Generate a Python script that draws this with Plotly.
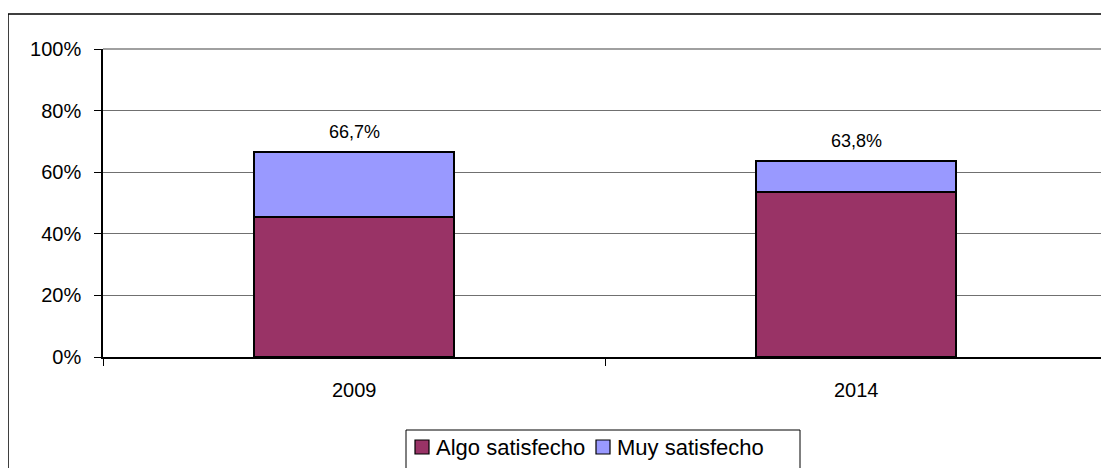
import plotly.graph_objects as go

years = ["2009", "2014"]
algo = [45.5, 53.7]
muy = [21.2, 10.1]
totals = [66.7, 63.8]
y_ticks = [0, 20, 40, 60, 80, 100]
series_names = ["Algo satisfecho", "Muy satisfecho"]
colors = ["#993366", "#9999FF"]

W, H = 1109, 468
OFF = 8  # page body margin
# plot area in page pixels: x 103..1107, y 49..357
PL, PR, PT, PB = 103, 1107, 49, 357
L = PL - OFF
T = PT - OFF
R = W - (PR - OFF)
B = H - (PB - OFF)
pw, ph = PR - PL, PB - PT

def px_x(x):
    return (x - PL) / pw

def px_y(y):
    return (PB - y) / ph

xpos = list(range(len(years)))
FONT = "Liberation Sans, Arial"

fig = go.Figure()
for name, vals, col in zip(series_names, [algo, muy], colors):
    fig.add_trace(go.Bar(
        x=xpos, y=vals, name=name, width=0.4, showlegend=False,
        marker=dict(color=col, line=dict(color="#000000", width=2)),
    ))

for xp, t in zip(xpos, totals):
    fig.add_annotation(
        x=xp, y=t, xref="x", yref="y", text=f"{t:.1f}".replace(".", ",") + "%",
        showarrow=False, yanchor="bottom", yshift=8,
        font=dict(family=FONT, size=18, color="#000000"),
    )

for xp, yr in zip(xpos, years):
    fig.add_annotation(
        x=xp, y=px_y(390), xref="x", yref="paper", text=yr,
        showarrow=False, yanchor="middle",
        font=dict(family=FONT, size=20, color="#000000"),
    )

# outer chart border
fig.add_shape(type="rect", xref="paper", yref="paper",
              x0=px_x(8), x1=px_x(1125), y0=px_y(14), y1=px_y(490),
              line=dict(color="#000000", width=1.5), fillcolor="rgba(0,0,0,0)", layer="below")
# legend border
fig.add_shape(type="rect", xref="paper", yref="paper",
              x0=px_x(406), x1=px_x(800), y0=px_y(430), y1=px_y(490),
              line=dict(color="#000000", width=1), fillcolor="rgba(0,0,0,0)")
# legend entries (drawn manually to match spacing)
legend_marker_x = [415, 596]
for name, col, mx in zip(series_names, colors, legend_marker_x):
    fig.add_shape(type="rect", xref="paper", yref="paper",
                  x0=px_x(mx), x1=px_x(mx + 14), y0=px_y(454), y1=px_y(440),
                  line=dict(color="#000000", width=1.2), fillcolor=col)
    fig.add_annotation(
        x=px_x(mx + 19), y=px_y(447), xref="paper", yref="paper", text=name,
        showarrow=False, xanchor="left", yanchor="middle",
        font=dict(family=FONT, size=22, color="#000000"),
    )
# plot area top/right border
fig.add_shape(type="line", xref="paper", yref="paper", x0=0, x1=1, y0=1, y1=1,
              line=dict(color="#808080", width=1.5))
fig.add_shape(type="line", xref="paper", yref="paper", x0=1, x1=1, y0=0, y1=1,
              line=dict(color="#808080", width=1.5))

fig.update_layout(
    width=W, height=H,
    margin=dict(l=L, r=R, t=T, b=B, autoexpand=False),
    barmode="stack",
    paper_bgcolor="#FFFFFF", plot_bgcolor="#FFFFFF",
    font=dict(family=FONT, size=20, color="#000000"),
    showlegend=False,
    xaxis=dict(range=[-0.5, 1.5], tickvals=[-0.5, 0.5, 1.5], ticktext=["", "", ""],
               ticks="outside", ticklen=7, tickcolor="#000000",
               showline=True, linecolor="#000000", linewidth=1.5,
               showgrid=False, zeroline=False, automargin=False),
    yaxis=dict(range=[0, 100], tickvals=y_ticks, ticktext=[f"{v}%" for v in y_ticks],
               ticks="outside", ticklen=7, tickcolor="#000000",
               showline=True, linecolor="#000000", linewidth=1.5,
               showgrid=True, gridcolor="#707070", gridwidth=1, zeroline=False,
               tickfont=dict(size=20), automargin=False, ticklabelstandoff=9),
)

fig.write_html("out.html")
